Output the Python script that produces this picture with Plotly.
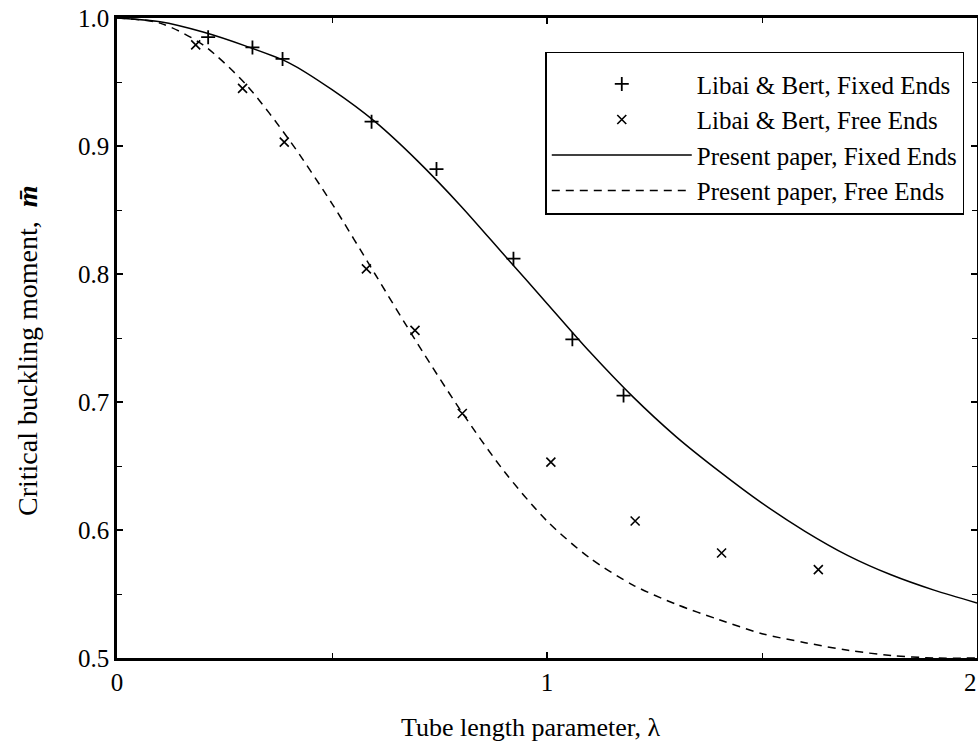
import plotly.graph_objects as go

# Libai & Bert reference points
lb_fixed_x = [0.212, 0.315, 0.385, 0.592, 0.743, 0.922, 1.059, 1.178]
lb_fixed_y = [0.985, 0.977, 0.968, 0.919, 0.882, 0.812, 0.749, 0.705]

lb_free_x = [0.183, 0.292, 0.389, 0.580, 0.693, 0.803, 1.009, 1.205, 1.406, 1.631]
lb_free_y = [0.979, 0.945, 0.903, 0.804, 0.756, 0.691, 0.653, 0.607, 0.582, 0.569]

# Present paper curves
lam = [0.0, 0.1, 0.2, 0.3, 0.4, 0.5, 0.6, 0.7, 0.8, 0.9, 1.0,
       1.1, 1.2, 1.3, 1.4, 1.5, 1.6, 1.7, 1.8, 1.9, 2.0]
pp_fixed = [1.000, 0.997, 0.989, 0.978, 0.965, 0.944, 0.919, 0.888, 0.853, 0.815, 0.777,
            0.739, 0.704, 0.673, 0.646, 0.621, 0.599, 0.580, 0.565, 0.553, 0.543]
pp_free = [1.000, 0.996, 0.979, 0.948, 0.905, 0.855, 0.800, 0.745, 0.693, 0.646, 0.607,
           0.578, 0.557, 0.542, 0.530, 0.519, 0.512, 0.506, 0.502, 0.500, 0.500]

x_ticks = [0, 1, 2]
x_labels = ["0", "1", "2"]
y_ticks = [0.5, 0.6, 0.7, 0.8, 0.9, 1.0]
y_labels = ["0.5", "0.6", "0.7", "0.8", "0.9", "1.0"]

SERIF = "Liberation Serif"

fig = go.Figure()
fig.add_trace(go.Scatter(
    x=lb_fixed_x, y=lb_fixed_y, mode="markers", name="Libai & Bert, Fixed Ends",
    legendgroup="a",
    marker=dict(symbol="cross-thin", size=10, line=dict(color="black", width=1.8)),
))
fig.add_trace(go.Scatter(
    x=lb_free_x, y=lb_free_y, mode="markers", name="Libai & Bert, Free Ends",
    legendgroup="b",
    marker=dict(symbol="x-thin", size=9, line=dict(color="black", width=1.6)),
))
fig.add_trace(go.Scatter(
    x=lam, y=pp_fixed, mode="lines", name="Present paper, Fixed Ends",
    legendgroup="c",
    line=dict(color="black", width=1.5, shape="spline", smoothing=0.8),
))
fig.add_trace(go.Scatter(
    x=lam, y=pp_free, mode="lines", name="Present paper, Free Ends",
    legendgroup="d",
    line=dict(color="black", width=1.5, dash="8px,6px", shape="spline", smoothing=0.8),
))

axis_common = dict(
    showline=True, linecolor="black", linewidth=2.5, mirror="ticks",
    ticks="inside", tickcolor="black", tickwidth=1.5, ticklen=6,
    showgrid=False, zeroline=False, automargin=False,
    tickfont=dict(family=SERIF, size=25, color="black"),
)

# the last x label sits at the figure's right edge, so it is right-aligned to stay inside
edge_label = dict(text=x_labels[-1], xref="x", yref="paper", x=x_ticks[-1], y=0,
                  xanchor="right", yanchor="middle", xshift=2, yshift=-24,
                  showarrow=False, font=dict(family=SERIF, size=25, color="black"))

fig.update_layout(
    width=978, height=743,
    margin=dict(l=117, r=1, t=18, b=85),
    paper_bgcolor="white", plot_bgcolor="white",
    font=dict(family=SERIF, color="black"),
    showlegend=True,
    legend=dict(
        x=0.498, y=0.947, xanchor="left", yanchor="top",
        bgcolor="white", bordercolor="black", borderwidth=1.5,
        font=dict(family=SERIF, size=25, color="black"),
        title=dict(text="&nbsp;", font=dict(size=6)),
        itemwidth=140, tracegroupgap=0,
    ),
    xaxis=dict(
        range=[0, 2], tickvals=x_ticks, ticktext=x_labels[:-1] + [""],
        minor=dict(tickvals=[0.5, 1.5], ticks="inside", ticklen=5, tickcolor="black", tickwidth=1.2),
        **axis_common,
    ),
    yaxis=dict(
        range=[0.5, 1.0], tickvals=y_ticks, ticktext=y_labels,
        minor=dict(tickvals=[0.55, 0.65, 0.75, 0.85, 0.95], ticks="inside", ticklen=5,
                   tickcolor="black", tickwidth=1.2),
        **axis_common,
    ),
    annotations=[
        edge_label,
        dict(text="Tube length parameter, λ", xref="paper", yref="paper",
             x=0.5, y=0, xanchor="center", yanchor="middle", xshift=-17, yshift=-69,
             showarrow=False, font=dict(family=SERIF, size=26, color="black")),
        dict(text="Critical buckling moment,  <b><i>m̄</i></b>", xref="paper", yref="paper",
             x=0, y=0.5, xanchor="center", yanchor="middle", xshift=-90, yshift=-13,
             textangle=-90, showarrow=False,
             font=dict(family=SERIF, size=28, color="black")),
    ],
)

fig.write_html("out.html")
